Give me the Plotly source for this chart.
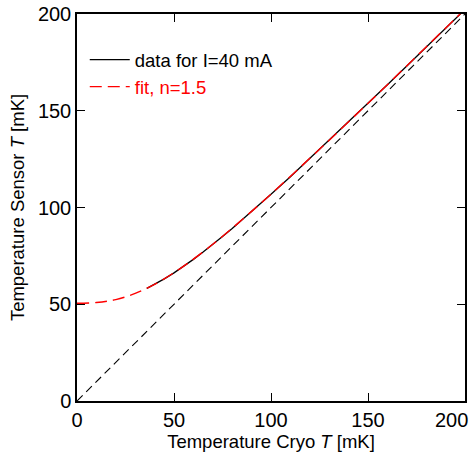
import plotly.graph_objects as go

data_x = [36, 40, 45, 50, 55, 60, 65, 70, 75, 80, 90, 100, 110, 120, 130, 140, 150, 160, 170, 180, 190, 199]
data_y = [58.2, 60.2, 63.1, 66.2, 69.6, 73.2, 77.0, 80.9, 85.0, 89.2, 97.9, 106.8, 115.9, 125.3, 134.7, 144.2, 153.8, 163.4, 173.1, 182.9, 192.6, 201.4]

# Fit curve, n=1.5
fit_x = [0, 10, 20, 30, 40, 50, 60, 70, 80, 90, 100, 120, 140, 160, 180, 200]
fit_y = [50.5, 50.9, 52.4, 55.6, 60.3, 66.3, 73.3, 81.0, 89.3, 98.0, 106.9, 125.4, 144.3, 163.5, 183.0, 202.5]

# Reference line T_sensor = T_cryo
ident_x = [0, 200]
ident_y = [0, 200]

x_ticks = [0, 50, 100, 150, 200]
y_ticks = [0, 50, 100, 150, 200]

FONT = "Liberation Sans, Arial, sans-serif"

fig = go.Figure()
fig.add_trace(go.Scatter(x=ident_x, y=ident_y, mode="lines", showlegend=False,
                         line=dict(color="black", width=1.1, dash="8px,5px")))
fig.add_trace(go.Scatter(x=data_x, y=data_y, mode="lines", name="data for I=40 mA",
                         line=dict(color="black", width=1.3)))
fig.add_trace(go.Scatter(x=fit_x, y=fit_y, mode="lines", line_shape="spline",
                         name="<span style='color:red'>fit, n=1.5</span>",
                         line=dict(color="red", width=1.4, dash="12px,6px")))

axis_common = dict(showgrid=False, zeroline=False, showline=True, linecolor="black",
                   linewidth=1.5, mirror="ticks", ticks="inside", ticklen=8, tickwidth=1,
                   tickcolor="black", tickfont=dict(family=FONT, size=20, color="black"),
                   automargin=False)

fig.update_xaxes(range=[0, 200], tickvals=x_ticks,
                 ticktext=[str(v) if v != 200 else "" for v in x_ticks],
                 title=dict(text="Temperature Cryo <i>T</i> [mK]", standoff=4,
                            font=dict(family=FONT, size=18.5, color="black")),
                 **axis_common)
fig.update_yaxes(range=[0, 200], tickvals=y_ticks, ticktext=[str(v) for v in y_ticks],
                 title=dict(text="Temperature Sensor <i>T</i> [mK]", standoff=8,
                            font=dict(family=FONT, size=18.5, color="black")),
                 **axis_common)

fig.add_annotation(text="200", xref="paper", yref="paper", x=1, y=0, xanchor="right",
                   yanchor="top", xshift=5, yshift=-6, showarrow=False,
                   font=dict(family=FONT, size=20, color="black"))

fig.update_layout(
    width=471, height=454,
    margin=dict(l=77, r=6, t=14, b=53),
    plot_bgcolor="white", paper_bgcolor="white",
    legend=dict(x=0.02, y=0.93, xanchor="left", yanchor="top", itemwidth=40,
                bgcolor="rgba(0,0,0,0)", font=dict(family=FONT, size=18.5, color="black")),
)

fig.write_html("out.html")
